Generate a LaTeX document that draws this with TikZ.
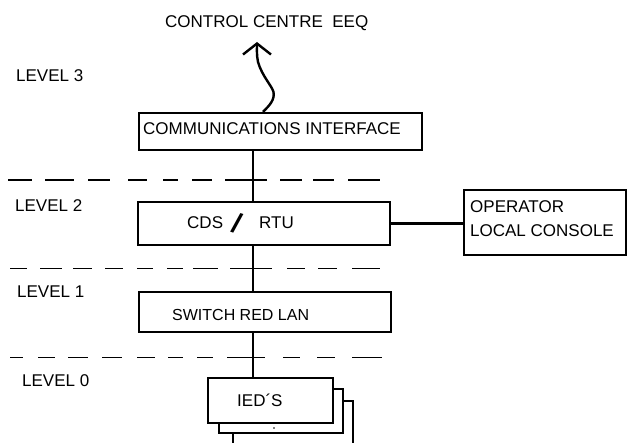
\documentclass[tikz,border=0pt]{standalone}
\usepackage{fontspec}
\setmainfont{Liberation Sans}
\usetikzlibrary{arrows.meta}
\begin{document}
\begin{tikzpicture}[x=1pt,y=-1pt,
  box/.style={draw, line width=2.4pt, fill=white, inner sep=0pt},
  lbl/.style={anchor=base west, inner sep=0pt, font=\fontsize{17}{20}\selectfont},
  wire/.style={line width=2.4pt},
  levelline/.style={line width=1.8pt}]
\clip (0,0) rectangle (628,443);
\fill[white] (0,0) rectangle (628,443);

% level separators
\foreach \a/\b in {8/32,45/74,88/110,128/147,163/178,192/212,225/267,280/302,313/334,348/380}
  \draw[levelline] (\a,180) -- (\b,180);
\foreach \a/\b in {10/27,40/62,73/92,105/123,137/153,167/183,193/218,230/272,287/305,318/337,352/380}
  \draw[levelline] (\a,268.5) -- (\b,268.5);
\foreach \a/\b in {10/23,38/55,68/88,102/122,137/155,168/183,197/213,227/265,283/300,317/335,352/382}
  \draw[levelline] (\a,357.5) -- (\b,357.5);

% boxes
\node[box, minimum width=283pt, minimum height=37pt] (comm) at (280.5,131.5) {};
\node[box, minimum width=252pt, minimum height=43pt] (cds) at (264,223.5) {};
\node[box, minimum width=162pt, minimum height=65pt] (op) at (545,222.5) {};
\node[box, minimum width=252pt, minimum height=40pt] (sw) at (265,312) {};
\node[box, minimum width=120pt, minimum height=69pt] (ied3) at (293,435.5) {};
\node[box, minimum width=124pt, minimum height=44pt] (ied2) at (281,411) {};
\node[box, minimum width=125pt, minimum height=45pt] (ied) at (270.5,400.5) {};
\fill (274,428) circle (0.9);

% connectors
\coordinate (bus) at (253,0);
\draw[wire] (bus |- comm.south) -- (bus |- cds.north);
\draw[wire] (bus |- cds.south) -- (bus |- sw.north);
\draw[wire] (bus |- sw.south) -- (bus |- ied.north);
\draw[wire] (cds.east) -- (cds.east -| op.west);

\coordinate (wx) at (263,0);
\coordinate (tip) at (257,42);
\draw[wire, -{Straight Barb[length=11pt,width=28pt]}] (wx |- comm.north)
  .. controls (269,106) and (275,100) .. (273.5,92)
  .. controls (272,86) and (262,76) .. (258,62)
  .. controls (256.5,55) and (257,48) .. (tip);

% texts
\node[lbl] (ctrl) at (165,28) {CONTROL CENTRE\ \ EEQ};
\node[lbl] (l3) at (16,82) {LEVEL 3};
\node[lbl] (l2) at (15,212) {LEVEL 2};
\node[lbl] (l1) at (17,297) {LEVEL 1};
\node[lbl] (l0) at (22,386) {LEVEL 0};
\node[lbl] (commt) at (143,135) {COMMUNICATIONS INTERFACE};
\node[lbl] (cdst) at (187,229) {CDS};
\node[inner sep=0pt] (slash) at (237.5,223.5) {\rotatebox{-18}{\bfseries\fontsize{28}{28}\selectfont /}};
\node[lbl] (rtut) at (259,229) {RTU};
\node[lbl] (opt1) at (470,213) {OPERATOR};
\node[lbl] (opt2) at (470,237) {LOCAL CONSOLE};
\node[lbl, font=\fontsize{16}{20}\selectfont] (swt) at (172,320) {SWITCH RED LAN};
\node[lbl] (iedt) at (237,406) {IED´S};
\end{tikzpicture}
\end{document}
